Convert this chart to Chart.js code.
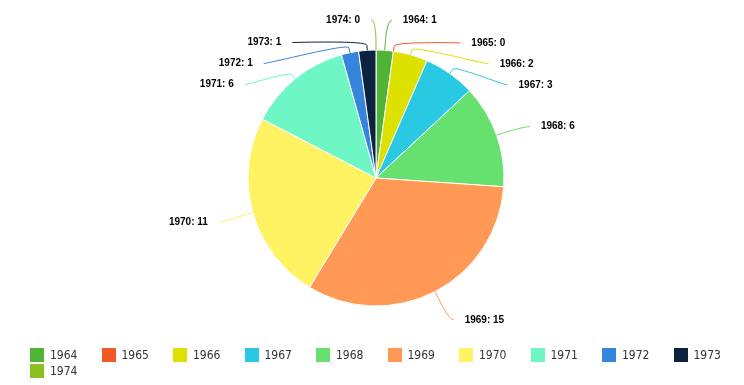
<!DOCTYPE html>
<html>
<head>
<meta charset="utf-8">
<script src="https://cdn.jsdelivr.net/npm/chart.js@4.4.1/dist/chart.umd.min.js"></script>
<style>
    body { margin: 0; background: #fff; }
    #wrap { position: relative; width: 744px; height: 385px; }
    #legend {
        position: absolute; left: 30px; top: 347px; width: 720px;
        display: flex; flex-wrap: wrap;
        font: 12px "DejaVu Sans Condensed", "DejaVu Sans", sans-serif; color: #333;
    }
    .item { display: flex; align-items: center; width: 71.5px; height: 16px; }
    .box { width: 14px; height: 14px; margin-right: 6px; }
</style>
</head>
<body>
<div id="wrap">
    <canvas id="pieChart" width="744" height="385"></canvas>
    <div id="legend"></div>
</div>
<script>
// Data
const years = ['1964', '1965', '1966', '1967', '1968', '1969', '1970', '1971', '1972', '1973', '1974'];
const counts = [1, 0, 2, 3, 6, 15, 11, 6, 1, 1, 0];
const sliceColors = ['#4fb336', '#f15a24', '#dde100', '#29c9e3', '#66e06e', '#ff9955',
                     '#fff263', '#6ef7c4', '#3685dc', '#0d223f', '#8cbf1f'];

// Labels with curved connectors, outside the pie
const pieLabels = {
    id: 'pieLabels',
    afterDraw(chart) {
        const meta = chart.getDatasetMeta(0);
        const ctx = chart.ctx;
        const cx = meta.data[0].x;
        const cy = meta.data[0].y;
        const r = meta.data[0].outerRadius;
        const R = r + 30;

        const items = meta.data.map((arc, i) => {
            const mid = (arc.startAngle + arc.endAngle) / 2;
            return {
                i: i,
                mid: mid,
                left: mid + Math.PI / 2 > Math.PI,
                y: cy + Math.sin(mid) * R
            };
        });

        // push overlapping labels down on each side
        [true, false].forEach(side => {
            const list = items.filter(it => it.left === side).sort((a, b) => a.y - b.y);
            let prev = -Infinity;
            list.forEach(it => {
                it.y = Math.max(it.y, prev + 21, 19);
                prev = it.y;
            });
        });

        ctx.save();
        ctx.font = 'bold 10px "Liberation Sans", Arial, sans-serif';
        ctx.textBaseline = 'middle';
        items.forEach(it => {
            const s = it.left ? -1 : 1;
            const dy = it.y - cy;
            const xo = Math.sqrt(Math.max(0, R * R - dy * dy));
            const ly = it.y + (it.y > 30 ? 1.5 : 0);
            const sx = cx + s * (xo + 5);
            const tx = cx + Math.cos(it.mid) * r;
            const ty = cy + Math.sin(it.mid) * r;
            const bx = cx + Math.cos(it.mid) * (r + 5);
            const by = cy + Math.sin(it.mid) * (r + 5);

            ctx.beginPath();
            ctx.moveTo(sx, ly);
            ctx.bezierCurveTo(sx - s * 5, ly, 2 * bx - tx, 2 * by - ty, bx, by);
            ctx.lineTo(tx, ty);
            ctx.strokeStyle = sliceColors[it.i];
            ctx.lineWidth = 1;
            ctx.stroke();

            ctx.textAlign = it.left ? 'right' : 'left';
            ctx.fillStyle = '#000';
            ctx.fillText(years[it.i] + ': ' + counts[it.i], cx + s * (xo + 16), ly);
        });
        ctx.restore();
    }
};

const chart = new Chart(document.getElementById('pieChart'), {
    type: 'pie',
    data: {
        labels: years,
        datasets: [{
            data: counts,
            backgroundColor: sliceColors,
            borderColor: '#fff',
            borderWidth: 1,
            radius: 128
        }]
    },
    options: {
        responsive: false,
        animation: false,
        layout: { padding: { top: 0, bottom: 29, left: 8, right: 0 } },
        plugins: {
            legend: { display: false },
            tooltip: { enabled: false }
        }
    },
    plugins: [pieLabels]
});

// HTML legend
const legendEl = document.getElementById('legend');
years.forEach((y, i) => {
    const item = document.createElement('div');
    item.className = 'item';
    item.innerHTML = `<span class="box" style="background:${sliceColors[i]}"></span><span>${y}</span>`;
    legendEl.appendChild(item);
});
</script>
</body>
</html>
